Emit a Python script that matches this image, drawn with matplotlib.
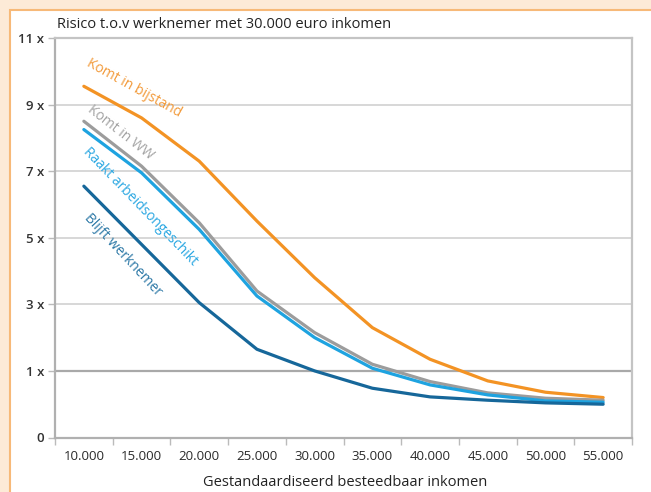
import numpy as np
import matplotlib
matplotlib.use('Agg')
import matplotlib.pyplot as plt
from matplotlib.patches import Rectangle

plt.rcParams['font.family'] = ['Open Sans', 'DejaVu Sans']

# gegevens
inkomens = ['10.000', '15.000', '20.000', '25.000', '30.000',
            '35.000', '40.000', '45.000', '50.000', '55.000']
bijstand = [9.55, 8.6, 7.3, 5.5, 3.8, 2.3, 1.35, 0.85, 0.68, 0.6]
ww = [8.5, 7.15, 5.45, 3.4, 2.15, 1.2, 0.84, 0.67, 0.59, 0.56]
arbeidsongeschikt = [8.25, 6.95, 5.25, 3.25, 2.0, 1.08, 0.79, 0.64, 0.55, 0.53]
werknemer = [6.55, 4.8, 3.05, 1.65, 1.0, 0.74, 0.61, 0.56, 0.52, 0.5]
y_ticks = [0, 1, 3, 5, 7, 9, 11]
y_labels = ['0', '1 x', '3 x', '5 x', '7 x', '9 x', '11 x']

ORANJE = '#F39324'
GRIJS = '#9C9C9C'
LICHTBLAUW = '#1EA3E0'
DONKERBLAUW = '#16679A'


# as: 0-1 krijgt even veel ruimte als 1-3, 3-5, ...
def forward(v):
    v = np.asarray(v, dtype=float)
    return np.where(v <= 1, 2 * v, v + 1)


def inverse(t):
    t = np.asarray(t, dtype=float)
    return np.where(t <= 2, t / 2, t - 1)


fig = plt.figure(figsize=(6.51, 4.92), dpi=100)
fig.patch.set_facecolor('#FDEAD7')
# wit paneel met oranje rand
fig.patches.append(Rectangle((10 / 651, -0.1), 1.0, 1.1 - 10 / 492,
                             transform=fig.transFigure, facecolor='white',
                             edgecolor='#F7B978', linewidth=1.5, zorder=-1))

ax = fig.add_axes([55 / 651, 1 - 437.5 / 492, 577 / 651, 399.5 / 492])
ax.set_zorder(2)
ax.set_facecolor('white')
ax.set_yscale('function', functions=(forward, inverse))

x = np.arange(len(inkomens))
series = [
    (bijstand, ORANJE),
    (ww, GRIJS),
    (arbeidsongeschikt, LICHTBLAUW),
    (werknemer, DONKERBLAUW),
]
for waarden, kleur in series:
    ax.plot(x, waarden, color=kleur, linewidth=2.3, solid_capstyle='round',
            solid_joinstyle='round', zorder=3)

# rasterlijnen
for t in [3, 5, 7, 9]:
    ax.axhline(t, color='#D4D4D4', linewidth=1.3, zorder=1)
ax.axhline(1, color='#A9A9A9', linewidth=1.6, zorder=1)

ax.set_xlim(-0.5, len(inkomens) - 0.5)
ax.set_ylim(0, 11)
ax.set_yticks(y_ticks)
ax.set_yticklabels(y_labels)
ax.set_xticks(x)
ax.set_xticklabels(inkomens)
ax.set_xticks(np.arange(len(inkomens) + 1) - 0.5, minor=True)
ax.tick_params(axis='x', which='major', length=0, pad=9, labelsize=9.5, labelcolor='#2A2A2A')
ax.tick_params(axis='x', which='minor', length=5, color='#BBBBBB', width=1)
ax.tick_params(axis='y', length=5, color='#BBBBBB', width=1, pad=3,
               labelsize=9.5, labelcolor='#333333')
for lbl in ax.get_yticklabels():
    lbl.set_fontweight('semibold')

for kant in ['top', 'right']:
    ax.spines[kant].set_color('#C4C4C4')
    ax.spines[kant].set_linewidth(1.6)
for kant in ['left', 'bottom']:
    ax.spines[kant].set_color('#B0B0B0')
    ax.spines[kant].set_linewidth(1.6)

# labels bij de lijnen
labels = [
    ('Komt in bijstand', '#F29A3A', (134, 88), -29),
    ('Komt in WW', '#A3A3A3', (120, 133), -38),
    ('Raakt arbeidsongeschikt', '#2AA7E2', (140, 207), -46),
    ('Blijft werknemer', '#2C78A6', (123, 255), -47),
]
for tekst, kleur, (px, py), hoek in labels:
    ax.text((px - 55) / 577, (437.5 - py) / 399.5, tekst, color=kleur,
            fontsize=10, rotation=hoek, rotation_mode='anchor',
            ha='center', va='center', transform=ax.transAxes, zorder=4)

fig.text(57 / 651, 1 - 25 / 492, 'Risico t.o.v werknemer met 30.000 euro inkomen',
         fontsize=10.5, color='#222222', ha='left', va='center')
fig.text(345 / 651, 2 / 492, 'Gestandaardiseerd besteedbaar inkomen',
         fontsize=10.5, color='#222222', ha='center', va='bottom')

fig.savefig('out.png', dpi=100, facecolor=fig.get_facecolor())
